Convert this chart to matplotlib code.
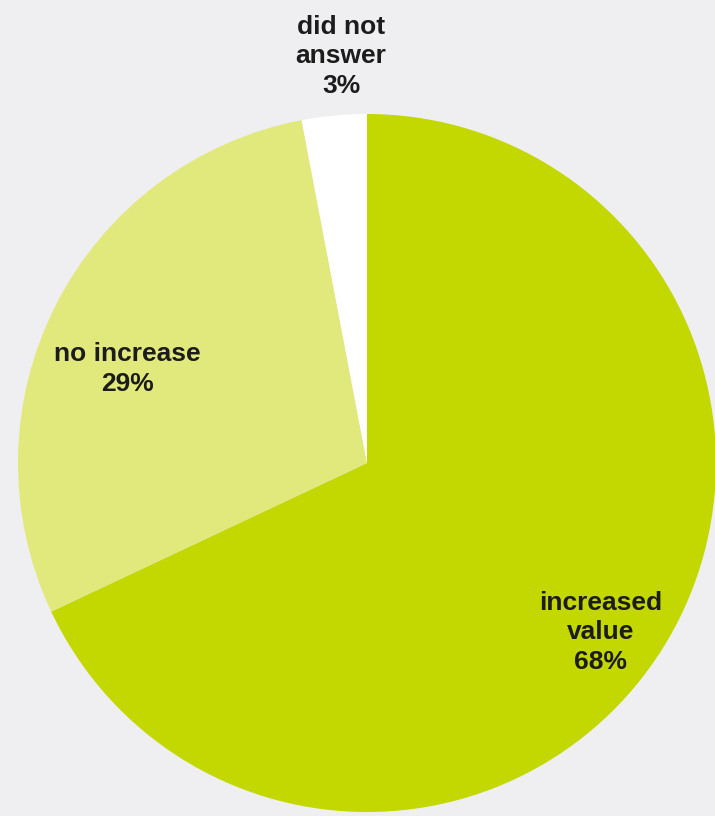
import matplotlib
matplotlib.use("Agg")
import matplotlib.pyplot as plt

# survey answers, clockwise from 12 o'clock
labels = ["increased\nvalue", "no increase", "did not\nanswer"]
shares = [68, 29, 3]
colors = ["#c3d700", "#e1e97c", "#ffffff"]

# label anchor points in pie data units
label_xy = [(0.67, -0.485), (-0.686, 0.27), (-0.074, 1.165)]

plt.rcParams["font.family"] = ["Liberation Sans", "DejaVu Sans"]

fig = plt.figure(figsize=(7.15, 8.16), dpi=100)
fig.patch.set_facecolor("#efeff1")

# pie centre at (367, 462) px, radius 348 px
W, H, R = 715, 816, 349
cx, cy = 367, 463
ax = fig.add_axes([(cx - R) / W, (H - cy - R) / H, 2 * R / W, 2 * R / H])
ax.set_facecolor("none")

ax.pie(shares, colors=colors, startangle=90, counterclock=False,
       radius=1.0, wedgeprops=dict(linewidth=0))
ax.set_xlim(-1, 1)
ax.set_ylim(-1, 1)
ax.set_aspect("equal")
ax.axis("off")

for lab, val, (x, y) in zip(labels, shares, label_xy):
    ax.text(x, y, f"{lab}\n{val}%", ha="center", va="center",
            fontsize=19, fontweight="bold", color="#1c1c1c",
            linespacing=1.3, clip_on=False)

fig.savefig("out.png", dpi=100, facecolor=fig.get_facecolor())
